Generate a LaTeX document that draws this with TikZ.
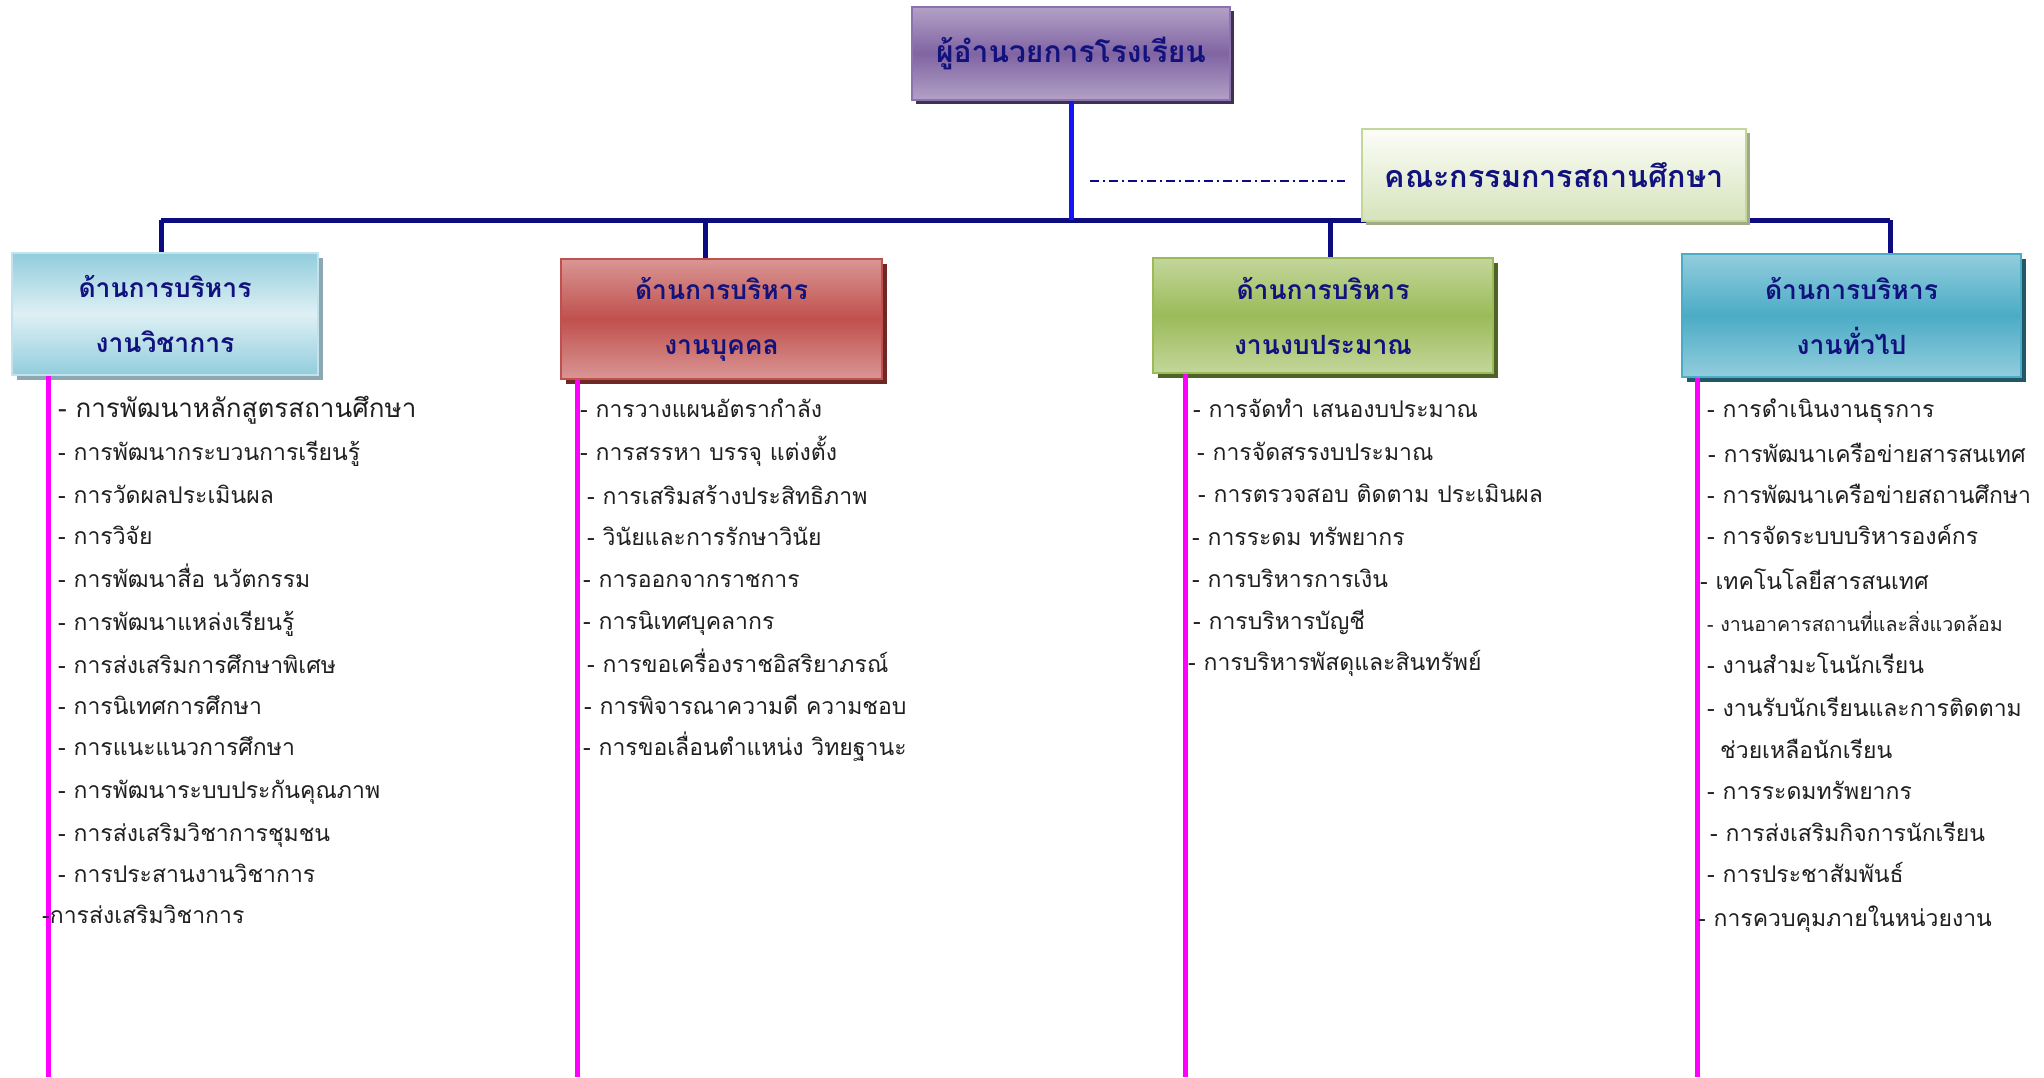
\documentclass[tikz,border=0pt]{standalone}
\usepackage{fontspec}
\newfontfamily\thaifont[Script=Thai]{Loma}
\usetikzlibrary{shadows}
\definecolor{navy}{HTML}{0C0C80}
\definecolor{hdr}{HTML}{12127E}
\definecolor{vblue}{HTML}{1414F5}
\definecolor{mag}{HTML}{FF00FF}
\tikzset{
  hbox/.style={draw, line width=1.5pt, inner sep=0pt, align=center, text=hdr,
     font=\thaifont\bfseries\fontsize{26.5}{55}\selectfont},
  item/.style={anchor=base west, inner sep=0pt, text=black!88,
     font=\thaifont\fontsize{23}{28}\selectfont},
  itembig/.style={item, font=\thaifont\fontsize{26}{30}\selectfont},
  itemsmall/.style={item, font=\thaifont\fontsize{19.6}{24}\selectfont},
  trunk/.style={navy, line width=5pt},
  pink/.style={mag, line width=5pt},
}
\begin{document}
\begin{tikzpicture}[x=1pt,y=-1pt]
\useasboundingbox (0,0) rectangle (2044,1077);
% junction coordinates
\coordinate (j1) at (161,220);
\coordinate (j2) at (705,220);
\coordinate (j3) at (1330,220);
\coordinate (j4) at (1890,220);
\coordinate (dd) at (1090,181);
\coordinate (m1) at (48,1077);
\coordinate (m2) at (577,1077);
\coordinate (m3) at (1185,1077);
\coordinate (m4) at (1697,1077);

\path (1071,53.5) node[hbox, minimum width=318pt, minimum height=93pt, draw={rgb,255:red,140;green,115;blue,175},
   top color={rgb,255:red,178;green,161;blue,199}, bottom color={rgb,255:red,178;green,161;blue,199},
   middle color={rgb,255:red,128;green,100;blue,162},
   drop shadow={shadow xshift=4pt, shadow yshift=-4pt, fill={rgb,255:red,63;green,49;blue,81}, opacity=1},
   font=\thaifont\bfseries\fontsize{30}{36}\selectfont] (top) {ผู้อำนวยการโรงเรียน};

% trunk lines (behind boxes)
\draw[trunk] (j1) -- (j4);
\draw[vblue, line width=5pt] (top.south) -- (top.south |- j1);
\draw[trunk] (j1) -- ++(0,33);
\draw[trunk] (j2) -- ++(0,39);
\draw[trunk] (j3) -- ++(0,38);
\draw[trunk] (j4) -- ++(0,34);

\node[hbox, minimum width=384pt, minimum height=92pt, draw={rgb,255:red,195;green,214;blue,155},
   top color={rgb,255:red,252;green,253;blue,248}, bottom color={rgb,255:red,214;green,227;blue,188},
   drop shadow={shadow xshift=4pt, shadow yshift=-4pt, fill={rgb,255:red,160;green,170;blue,135}, opacity=1},
   font=\thaifont\bfseries\fontsize{30.5}{36}\selectfont] (comm) at (1554,175) {คณะกรรมการสถานศึกษา};
\draw[navy, line width=2pt, dash pattern=on 9pt off 4pt on 2pt off 4pt] (dd) -- ([xshift=-16pt]dd -| comm.west);

\node[hbox, minimum width=306pt, minimum height=122pt, draw={rgb,255:red,196;green,226;blue,235},
   shading angle=35, top color={rgb,255:red,146;green,205;blue,220}, bottom color={rgb,255:red,146;green,205;blue,220},
   middle color={rgb,255:red,222;green,240;blue,245},
   drop shadow={shadow xshift=5pt, shadow yshift=-5pt, fill={rgb,255:red,140;green,168;blue,178}, opacity=1}]
   (b1) at (165,314) {ด้านการบริหาร\\งานวิชาการ};
\node[hbox, minimum width=321pt, minimum height=120pt, draw={rgb,255:red,192;green,80;blue,77},
   top color={rgb,255:red,217;green,150;blue,148}, bottom color={rgb,255:red,217;green,150;blue,148},
   middle color={rgb,255:red,192;green,80;blue,77},
   drop shadow={shadow xshift=5pt, shadow yshift=-5pt, fill={rgb,255:red,110;green,40;blue,38}, opacity=1}]
   (b2) at (721.5,319) {ด้านการบริหาร\\งานบุคคล};
\node[hbox, minimum width=340pt, minimum height=115pt, draw={rgb,255:red,155;green,187;blue,89},
   top color={rgb,255:red,195;green,214;blue,155}, bottom color={rgb,255:red,195;green,214;blue,155},
   middle color={rgb,255:red,155;green,187;blue,89},
   drop shadow={shadow xshift=5pt, shadow yshift=-5pt, fill={rgb,255:red,79;green,98;blue,40}, opacity=1}]
   (b3) at (1323,315.5) {ด้านการบริหาร\\งานงบประมาณ};
\node[hbox, minimum width=339pt, minimum height=123pt, draw={rgb,255:red,75;green,172;blue,198},
   top color={rgb,255:red,147;green,205;blue,221}, bottom color={rgb,255:red,147;green,205;blue,221},
   middle color={rgb,255:red,75;green,172;blue,198},
   drop shadow={shadow xshift=5pt, shadow yshift=-5pt, fill={rgb,255:red,33;green,88;blue,104}, opacity=1}]
   (b4) at (1851.5,315.5) {ด้านการบริหาร\\งานทั่วไป};

% magenta lines
\draw[pink] (m1 |- b1.south) -- (m1);
\draw[pink] (m2 |- b2.south) -- (m2);
\draw[pink] (m3 |- b3.south) -- (m3);
\draw[pink] (m4 |- b4.south) -- (m4);

% column 1
\node[itembig] (a1) at (58,417) {- การพัฒนาหลักสูตรสถานศึกษา};
\foreach \yy/\xx/\tt [count=\i from 2] in {
  453/58/- การพัฒนากระบวนการเรียนรู้,
  496/58/- การวัดผลประเมินผล,
  537/58/- การวิจัย,
  580/58/- การพัฒนาสื่อ นวัตกรรม,
  623/58/- การพัฒนาแหล่งเรียนรู้,
  666/58/- การส่งเสริมการศึกษาพิเศษ,
  707/58/- การนิเทศการศึกษา,
  748/58/- การแนะแนวการศึกษา,
  791/58/- การพัฒนาระบบประกันคุณภาพ,
  834/58/- การส่งเสริมวิชาการชุมชน,
  875/58/- การประสานงานวิชาการ,
  916/42/-การส่งเสริมวิชาการ}
  \node[item] (a\i) at (\xx,\yy+7) {\tt};

% column 2
\foreach \yy/\xx/\tt [count=\i] in {
  410/580/- การวางแผนอัตรากำลัง,
  453/580/- การสรรหา บรรจุ แต่งตั้ง,
  497/587/- การเสริมสร้างประสิทธิภาพ,
  538/587/- วินัยและการรักษาวินัย,
  580/583/- การออกจากราชการ,
  622/583/- การนิเทศบุคลากร,
  665/587/- การขอเครื่องราชอิสริยาภรณ์,
  707/584/- การพิจารณาความดี ความชอบ,
  748/583/- การขอเลื่อนตำแหน่ง วิทยฐานะ}
  \node[item] (b\i) at (\xx,\yy+7) {\tt};

% column 3
\foreach \yy/\xx/\tt [count=\i] in {
  410/1193/- การจัดทำ เสนองบประมาณ,
  453/1197/- การจัดสรรงบประมาณ,
  495/1198/- การตรวจสอบ ติดตาม ประเมินผล,
  538/1192/- การระดม ทรัพยากร,
  580/1192/- การบริหารการเงิน,
  622/1193/- การบริหารบัญชี,
  663/1188/- การบริหารพัสดุและสินทรัพย์}
  \node[item] (c\i) at (\xx,\yy+7) {\tt};

% column 4
\foreach \yy/\xx/\tt [count=\i] in {
  410/1707/- การดำเนินงานธุรการ,
  455/1708/- การพัฒนาเครือข่ายสารสนเทศ,
  496/1707/- การพัฒนาเครือข่ายสถานศึกษา,
  537/1707/- การจัดระบบบริหารองค์กร,
  582/1700/- เทคโนโลยีสารสนเทศ,
  666/1707/- งานสำมะโนนักเรียน,
  709/1707/- งานรับนักเรียนและการติดตาม,
  751/1720/ช่วยเหลือนักเรียน,
  792/1707/- การระดมทรัพยากร,
  834/1710/- การส่งเสริมกิจการนักเรียน,
  875/1707/- การประชาสัมพันธ์,
  919/1698/- การควบคุมภายในหน่วยงาน}
  \node[item] (d\i) at (\xx,\yy+7) {\tt};
\node[itemsmall] (d0) at (1707,631) {- งานอาคารสถานที่และสิ่งแวดล้อม};
\end{tikzpicture}
\end{document}
